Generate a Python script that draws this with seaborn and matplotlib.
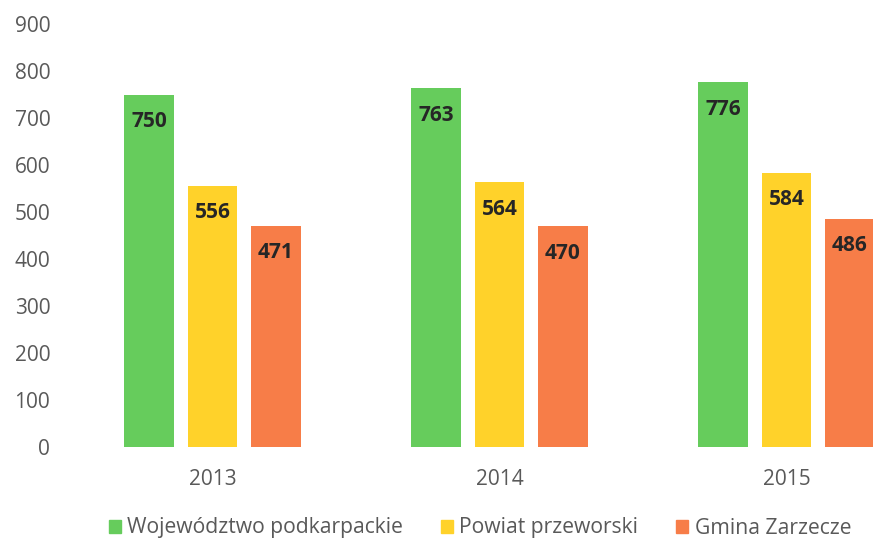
import matplotlib
matplotlib.use("Agg")
import matplotlib.pyplot as plt
import seaborn as sns
import pandas as pd

years = ["2013", "2014", "2015"]
series = ["Województwo podkarpackie", "Powiat przeworski", "Gmina Zarzecze"]
wojewodztwo = [750, 763, 776]
powiat = [556, 564, 584]
gmina = [471, 470, 486]
yticks = [0, 100, 200, 300, 400, 500, 600, 700, 800, 900]
colors = ["#66cc5c", "#ffd22a", "#f77d48"]

rows = []
for s, vals in zip(series, [wojewodztwo, powiat, gmina]):
    for y, v in zip(years, vals):
        rows.append({"Rok": y, "Seria": s, "Wartość": v})
df = pd.DataFrame(rows)

sns.set_theme(style="white")
plt.rcParams["font.family"] = ["Open Sans", "DejaVu Sans"]

fig = plt.figure(figsize=(8.73, 5.41), dpi=100)
W, H = 873, 541
left, right = 69, 930
bottom, top = 447, 24
ax = fig.add_axes([left / W, 1 - bottom / H, (right - left) / W, (bottom - top) / H])

sns.barplot(data=df, x="Rok", y="Wartość", hue="Seria", hue_order=series,
            palette=colors, width=0.66, gap=0.21, saturation=1,
            ax=ax, legend=False, edgecolor="none")

ax.set_xlim(-0.5, 2.5)
ax.set_ylim(0, 900)
ax.set_yticks(yticks)
ax.set_xlabel("")
ax.set_ylabel("")
for sp in ax.spines.values():
    sp.set_visible(False)
ax.tick_params(axis="both", length=0, colors="#595959", labelsize=15)
ax.tick_params(axis="y", pad=13.5)
ax.tick_params(axis="x", pad=16)
for lab in ax.get_yticklabels() + ax.get_xticklabels():
    lab.set_color("#595959")

for cont in ax.containers:
    for bar in cont:
        h = bar.get_height()
        ax.annotate(f"{int(h)}", (bar.get_x() + bar.get_width() / 2, h),
                    xytext=(0, -19.5), textcoords="offset points",
                    ha="center", va="center", fontsize=15, fontweight="bold",
                    color="#262626")

handles = [plt.Rectangle((0, 0), 1, 1, color=c) for c in colors]
fig.legend(handles, series, loc="center", bbox_to_anchor=(480 / W, 1 - 528 / H),
           ncol=3, frameon=False, fontsize=15.2, handlelength=0.57, handleheight=0.57,
           handletextpad=0.3, columnspacing=1.8, labelcolor="#595959")

fig.savefig("out.png", dpi=100)
